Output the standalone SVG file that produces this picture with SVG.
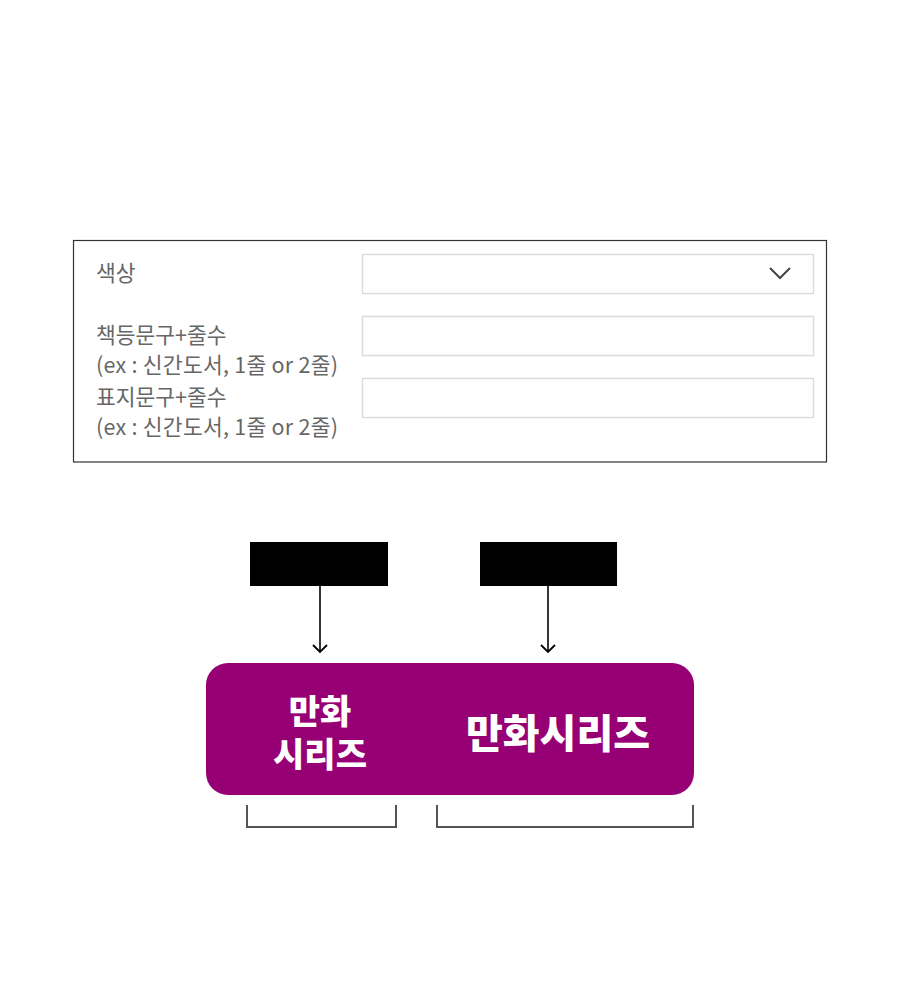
<svg xmlns="http://www.w3.org/2000/svg" width="900" height="986" viewBox="0 0 900 986">
<style>
.lbl{font-family:"Noto Sans CJK KR","Noto Sans",sans-serif;font-size:21.5px;fill:#666}
.sp{letter-spacing:0.25px}
.inp{fill:#fff;stroke:#dcdcdc;stroke-width:1.5}
.blk{fill:#000}
.wt{font-family:"Noto Sans CJK KR","Noto Sans",sans-serif;font-weight:900;fill:#fff;text-anchor:middle}
.br{fill:none;stroke:#555;stroke-width:2}
.ar{fill:none;stroke:#000;stroke-width:1.6}
</style>
<defs>
<marker id="ah" markerWidth="12" markerHeight="16" refX="9" refY="8" orient="auto" markerUnits="userSpaceOnUse" viewBox="0 0 12 16">
<path d="M2,1 L9,8 L2,15" fill="none" stroke="#000" stroke-width="1.8"/>
</marker>
</defs>
<rect width="900" height="986" fill="#fff"/>
<g id="form">
<rect x="73.5" y="240.5" width="753" height="221.5" fill="#fff" stroke="#333" stroke-width="1.2"/>
<text class="lbl" x="96" y="281">색상</text>
<text class="lbl" x="96" y="343">책등문구+줄수</text>
<text class="lbl sp" x="96" y="373">(ex : 신간도서, 1줄 or 2줄)</text>
<text class="lbl" x="96" y="405">표지문구+줄수</text>
<text class="lbl sp" x="96" y="435">(ex : 신간도서, 1줄 or 2줄)</text>
<rect class="inp" x="362.5" y="254.5" width="451" height="39"/>
<path d="M770,268 L780,278 L790,268" fill="none" stroke="#444" stroke-width="2"/>
<rect class="inp" x="362.5" y="316.5" width="451" height="39"/>
<rect class="inp" x="362.5" y="378.5" width="451" height="39"/>
</g>
<g id="box1"><rect class="blk" x="250" y="542" width="138" height="44"/></g>
<g id="box2"><rect class="blk" x="480" y="542" width="137" height="44"/></g>
<g id="main">
<rect x="206" y="663" width="488" height="132" rx="22" fill="#960074"/>
<text class="wt" x="320" y="724" font-size="34">만화</text>
<text class="wt" x="320" y="767" font-size="34">시리즈</text>
<text class="wt" x="558" y="748" font-size="40">만화시리즈</text>
</g>
<g id="connectors">
<line class="ar" x1="320" y1="586" x2="320" y2="652" marker-end="url(#ah)"/>
<line class="ar" x1="548" y1="586" x2="548" y2="652" marker-end="url(#ah)"/>
</g>
<g id="brackets">
<path class="br" d="M247,805 V827 H396 V805"/>
<path class="br" d="M437,805 V827 H693 V805"/>
</g>
</svg>
